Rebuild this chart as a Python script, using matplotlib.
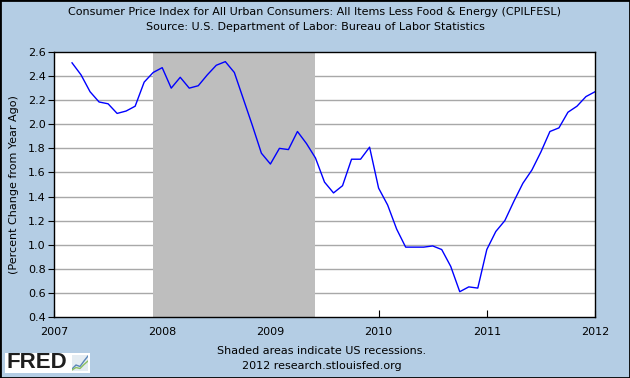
import matplotlib
matplotlib.use("Agg")
import matplotlib.pyplot as plt
from matplotlib.patches import Rectangle
import numpy as np

# monthly core CPI, percent change from year ago, Mar 2007 .. Jan 2012
start_year = 2007
start_month = 3
values = [2.51, 2.41, 2.27, 2.185, 2.17, 2.09, 2.11, 2.15, 2.35, 2.43,
          2.47, 2.30, 2.39, 2.30, 2.32, 2.41, 2.49, 2.52, 2.43, 2.21, 1.99, 1.76,
          1.67, 1.80, 1.79, 1.94, 1.84, 1.72, 1.52, 1.43, 1.49, 1.71, 1.71, 1.81,
          1.47, 1.33, 1.13, 0.98, 0.98, 0.98, 0.99, 0.96, 0.82, 0.61, 0.65, 0.64,
          0.96, 1.11, 1.20, 1.36, 1.51, 1.62, 1.77, 1.94, 1.97, 2.10, 2.15, 2.23,
          2.27]
recession = (2007 + 11 / 12, 2009 + 5 / 12)
x_ticks = [2007, 2008, 2009, 2010, 2011, 2012]
y_ticks = [0.4, 0.6, 0.8, 1.0, 1.2, 1.4, 1.6, 1.8, 2.0, 2.2, 2.4, 2.6]

months = np.arange(len(values)) + (start_month - 1)
dates = start_year + months / 12.0

bg = '#B4CDE4'
fig = plt.figure(figsize=(6.3, 3.78), dpi=100, facecolor=bg)
fig.patches.append(Rectangle((0, 0), 1, 1, transform=fig.transFigure,
                             fill=False, edgecolor='black', linewidth=2))
ax = fig.add_axes([54 / 630, 1 - 317 / 378, 541 / 630, 265 / 378])
ax.set_facecolor('white')

# grid first, recession shading on top of it (grid hidden in the gray band)
for y in y_ticks[1:-1]:
    ax.axhline(y, color='#A8A8A8', linewidth=1, zorder=1)
ax.axvspan(recession[0], recession[1], color='#BEBEBE', zorder=2, linewidth=0)
ax.plot(dates, values, color='#0000FF', linewidth=1, zorder=3)

ax.set_xlim(2007, 2012)
ax.set_ylim(0.4, 2.6)
ax.set_xticks(x_ticks)
ax.set_yticks(y_ticks)
ax.set_yticklabels([f'{v:.1f}' for v in y_ticks])
ax.tick_params(axis='x', direction='in', length=5, labelsize=8, pad=7)
ax.tick_params(axis='y', direction='out', length=4, labelsize=8, pad=2)
for s in ax.spines.values():
    s.set_linewidth(1)
    s.set_zorder(4)
ax.set_ylabel('(Percent Change from Year Ago)', fontsize=8, labelpad=6)

fig.text(0.5, 1 - 12 / 378,
         'Consumer Price Index for All Urban Consumers: All Items Less Food & Energy (CPILFESL)',
         ha='center', va='center', fontsize=8)
fig.text(0.5, 1 - 27 / 378, 'Source: U.S. Department of Labor: Bureau of Labor Statistics',
         ha='center', va='center', fontsize=8)
fig.text(322 / 630, 1 - 351 / 378, 'Shaded areas indicate US recessions.',
         ha='center', va='center', fontsize=8)
fig.text(322 / 630, 1 - 366 / 378, '2012 research.stlouisfed.org',
         ha='center', va='center', fontsize=8)

# FRED logo
fig.patches.append(Rectangle((5 / 630, 5 / 378), 85 / 630, 20 / 378,
                             transform=fig.transFigure, facecolor='white',
                             edgecolor='none'))
fig.text(6 / 630, 1 - 363 / 378, 'FRED', fontsize=16, fontweight='heavy',
         ha='left', va='center', color='#1E1E1E', family='Liberation Sans')
logo = fig.add_axes([72 / 630, 7 / 378, 16 / 630, 16 / 378], zorder=5)
logo.set_facecolor('#E4ECF2')
logo.plot([0, 1, 2, 3, 4], [0.4, 1.2, 0.9, 2.0, 3.0], color='#5A86B8', linewidth=1)
logo.plot([0, 1, 2, 3, 4], [0.2, 0.7, 0.5, 1.3, 2.0], color='#8CC060', linewidth=1)
logo.set_xlim(0, 4)
logo.set_ylim(0, 3.2)
logo.set_xticks([])
logo.set_yticks([])
for s in logo.spines.values():
    s.set_visible(False)

fig.savefig('out.png', dpi=100, facecolor=bg)
